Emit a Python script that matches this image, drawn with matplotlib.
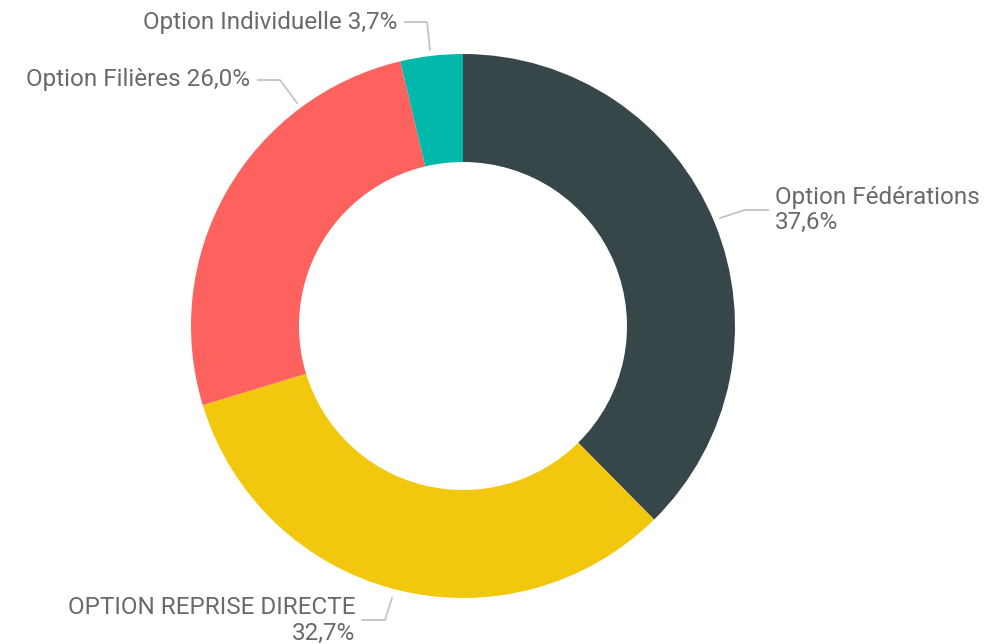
import numpy as np
import matplotlib.pyplot as plt

labels = ["Option Fédérations", "OPTION REPRISE DIRECTE", "Option Filières", "Option Individuelle"]
values = [37.6, 32.7, 26.0, 3.7]
colors = ["#374649", "#F2C80F", "#FD625E", "#01B8AA"]

plt.rcParams["font.family"] = ["Roboto", "DejaVu Sans"]

W, H = 987, 644
fig = plt.figure(figsize=(W / 100, H / 100), dpi=100)
ax = fig.add_axes([0, 0, 1, 1])

cx, cy, r_out, r_in = 463, 326, 272, 164

# draw wedges clockwise from top (y axis inverted -> counterclock=True looks clockwise)
ax.pie(values, colors=colors, startangle=-90, counterclock=True, center=(cx, cy),
       radius=r_out, wedgeprops=dict(width=r_out - r_in, linewidth=0),
       frame=True)
ax.set_xlim(0, W)
ax.set_ylim(H, 0)
ax.set_aspect("equal")
ax.axis("off")

fmt = lambda v: f"{v:.1f}%".replace(".", ",")
tc = "#6a6a6a"
lc = "#c4c4c4"
fs = 17.5

# leader lines and labels
ax.plot([720, 745, 768], [218, 210, 210], color=lc, lw=1.3)
ax.text(775, 197, labels[0], ha="left", va="center", fontsize=fs, color=tc)
ax.text(775, 222, fmt(values[0]), ha="left", va="center", fontsize=fs, color=tc)

ax.plot([392, 385, 362], [598, 620, 620], color=lc, lw=1.3)
ax.text(355, 608, labels[1], ha="right", va="center", fontsize=fs, color=tc)
ax.text(355, 633, fmt(values[1]), ha="right", va="center", fontsize=fs, color=tc)

ax.plot([297, 280, 258], [103, 80, 80], color=lc, lw=1.3)
ax.text(250, 79, f"{labels[2]} {fmt(values[2])}", ha="right", va="center", fontsize=fs, color=tc)

ax.plot([430, 427, 405], [50, 22, 22], color=lc, lw=1.3)
ax.text(397, 22, f"{labels[3]} {fmt(values[3])}", ha="right", va="center", fontsize=fs, color=tc)

fig.savefig("out.png", dpi=100, facecolor="white")
